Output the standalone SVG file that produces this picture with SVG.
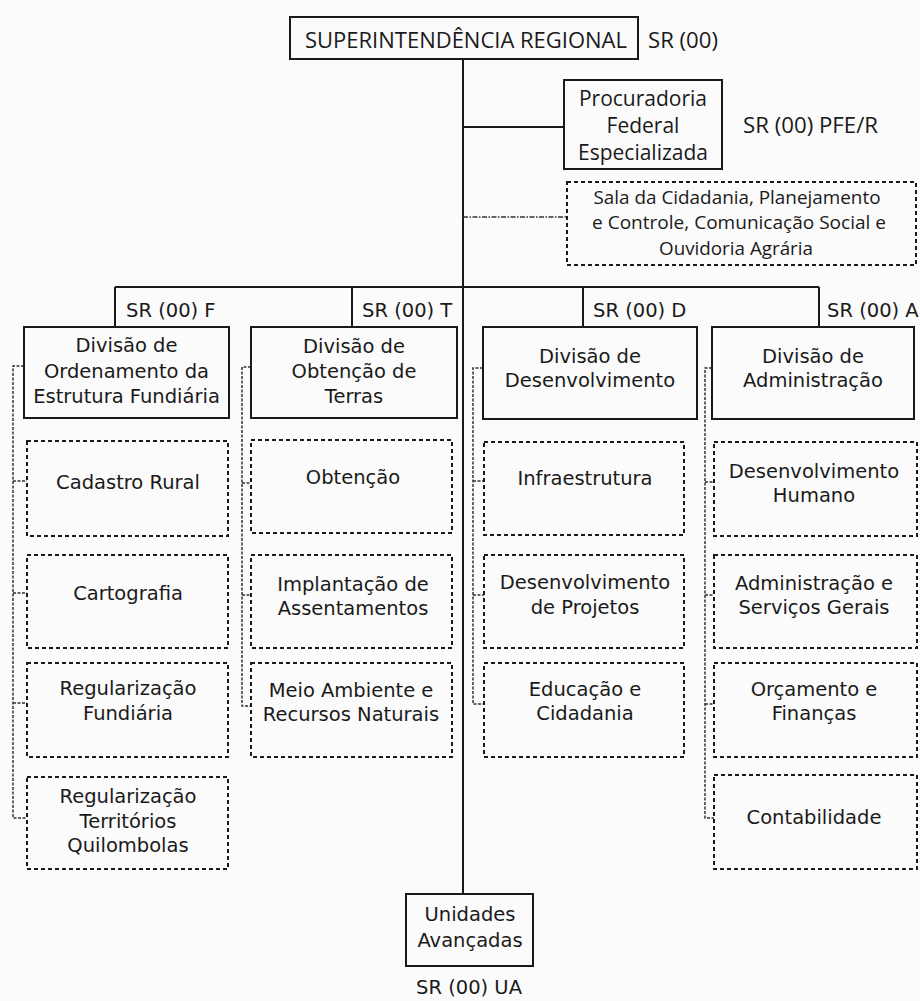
<svg xmlns="http://www.w3.org/2000/svg" width="920" height="1001" viewBox="0 0 920 1001">
<style>
.bg{fill:#fbfbfb}
.box{fill:none;stroke:#1a1a1a;stroke-width:2}
.dbox{fill:none;stroke:#1a1a1a;stroke-width:2;stroke-dasharray:4 3}
.ln{fill:none;stroke:#1a1a1a;stroke-width:2}
.dl{fill:none;stroke:#333;stroke-width:1.5;stroke-dasharray:3 1.5}
.dd{fill:none;stroke:#333;stroke-width:1.5;stroke-dasharray:5 1.5 1.5 1.5}
.o{font-family:"Open Sans","Liberation Sans",sans-serif;fill:#1a1a1a}
.d{font-family:"DejaVu Sans","Liberation Sans",sans-serif;font-size:19.5px;fill:#1a1a1a}
.c{text-anchor:middle}
</style>
<rect class="bg" x="0" y="0" width="920" height="1001"/>
<g id="connectors">
<path class="ln" d="M463,59 V894 M463,127 H564 M115,287 H819 M115,287 V327 M352,287 V327 M583,287 V327 M819,287 V327"/>
<path class="dd" d="M463,217 H567"/>
<path class="dl" d="M24,366 H13 V818 H27 M13,481 H27 M13,593 H27 M13,703 H27"/>
<path class="dl" d="M251,367 H242 V706 H250 M242,483 H251 M242,595 H251"/>
<path class="dl" d="M483,368 H473 V704 H484 M473,481 H484 M473,595 H484"/>
<path class="dl" d="M712,368 H705 V818 H714 M705,482 H714 M705,595 H714 M705,704 H714"/>
</g>
<g id="sr">
<rect class="box" x="290" y="17" width="348" height="42"/>
<text class="o c" x="466" y="48" font-size="21" textLength="322" lengthAdjust="spacingAndGlyphs">SUPERINTENDÊNCIA REGIONAL</text>
<text class="o" x="648" y="48" font-size="21" textLength="70" lengthAdjust="spacingAndGlyphs">SR (00)</text>
</g>
<g id="pfe">
<rect class="box" x="564" y="80" width="158" height="89"/>
<text class="o c" x="643" y="106" font-size="21">Procuradoria</text>
<text class="o c" x="643" y="133" font-size="21">Federal</text>
<text class="o c" x="643" y="160" font-size="21">Especializada</text>
<text class="o" x="743" y="133" font-size="21" textLength="135" lengthAdjust="spacingAndGlyphs">SR (00) PFE/R</text>
</g>
<g id="sala">
<rect class="dbox" x="567" y="182" width="349" height="83"/>
<text class="o c" x="737" y="204" font-size="17.5" textLength="287" lengthAdjust="spacingAndGlyphs">Sala da Cidadania, Planejamento</text>
<text class="o c" x="739" y="229" font-size="17.5" textLength="294" lengthAdjust="spacingAndGlyphs">e Controle, Comunicação Social e</text>
<text class="o c" x="736" y="255" font-size="17.5" textLength="154" lengthAdjust="spacingAndGlyphs">Ouvidoria Agrária</text>
</g>
<g id="divF">
<text class="d" x="126" y="317">SR (00) F</text>
<rect class="box" x="24" y="327" width="205" height="91"/>
<text class="d c" x="126.5" y="352">Divisão de</text>
<text class="d c" x="126.5" y="378">Ordenamento da</text>
<text class="d c" x="126.5" y="403">Estrutura Fundiária</text>
</g>
<g id="divT">
<text class="d" x="362" y="317">SR (00) T</text>
<rect class="box" x="251" y="327" width="206" height="91"/>
<text class="d c" x="354" y="353">Divisão de</text>
<text class="d c" x="354" y="378">Obtenção de</text>
<text class="d c" x="354" y="403">Terras</text>
</g>
<g id="divD">
<text class="d" x="593" y="317">SR (00) D</text>
<rect class="box" x="483" y="327" width="214" height="92"/>
<text class="d c" x="590" y="363">Divisão de</text>
<text class="d c" x="590" y="387">Desenvolvimento</text>
</g>
<g id="divA">
<text class="d" x="827" y="317">SR (00) A</text>
<rect class="box" x="712" y="327" width="202" height="92"/>
<text class="d c" x="813" y="363">Divisão de</text>
<text class="d c" x="813" y="387">Administração</text>
</g>
<g id="cadastro">
<rect class="dbox" x="27" y="441" width="201" height="95"/>
<text class="d c" x="128" y="489">Cadastro Rural</text>
</g>
<g id="cartografia">
<rect class="dbox" x="27" y="555" width="201" height="93"/>
<text class="d c" x="128" y="600">Cartografia</text>
</g>
<g id="regfund">
<rect class="dbox" x="27" y="663" width="201" height="94"/>
<text class="d c" x="128" y="695">Regularização</text>
<text class="d c" x="128" y="720">Fundiária</text>
</g>
<g id="quilombolas">
<rect class="dbox" x="27" y="777" width="201" height="92"/>
<text class="d c" x="128" y="803">Regularização</text>
<text class="d c" x="128" y="828">Territórios</text>
<text class="d c" x="128" y="852">Quilombolas</text>
</g>
<g id="obtencao">
<rect class="dbox" x="251" y="440" width="201" height="93"/>
<text class="d c" x="353" y="484">Obtenção</text>
</g>
<g id="implantacao">
<rect class="dbox" x="251" y="555" width="201" height="93"/>
<text class="d c" x="353" y="591">Implantação de</text>
<text class="d c" x="353" y="615">Assentamentos</text>
</g>
<g id="meio">
<rect class="dbox" x="251" y="663" width="201" height="94"/>
<text class="d c" x="351" y="697">Meio Ambiente e</text>
<text class="d c" x="351" y="721">Recursos Naturais</text>
</g>
<g id="infra">
<rect class="dbox" x="484" y="442" width="200" height="93"/>
<text class="d c" x="585" y="485">Infraestrutura</text>
</g>
<g id="desproj">
<rect class="dbox" x="484" y="555" width="200" height="93"/>
<text class="d c" x="585" y="589">Desenvolvimento</text>
<text class="d c" x="585" y="614">de Projetos</text>
</g>
<g id="educacao">
<rect class="dbox" x="484" y="663" width="200" height="94"/>
<text class="d c" x="585" y="696">Educação e</text>
<text class="d c" x="585" y="720">Cidadania</text>
</g>
<g id="deshum">
<rect class="dbox" x="714" y="442" width="203" height="94"/>
<text class="d c" x="814" y="478">Desenvolvimento</text>
<text class="d c" x="814" y="502">Humano</text>
</g>
<g id="admserv">
<rect class="dbox" x="714" y="555" width="203" height="93"/>
<text class="d c" x="814" y="590">Administração e</text>
<text class="d c" x="814" y="614">Serviços Gerais</text>
</g>
<g id="orcamento">
<rect class="dbox" x="714" y="663" width="203" height="94"/>
<text class="d c" x="814" y="696">Orçamento e</text>
<text class="d c" x="814" y="720">Finanças</text>
</g>
<g id="contab">
<rect class="dbox" x="714" y="775" width="203" height="94"/>
<text class="d c" x="814" y="824">Contabilidade</text>
</g>
<g id="ua">
<rect class="box" x="406" y="894" width="127" height="72"/>
<text class="d c" x="470" y="921">Unidades</text>
<text class="d c" x="470" y="947">Avançadas</text>
<text class="d c" x="469" y="994">SR (00) UA</text>
</g>
</svg>
